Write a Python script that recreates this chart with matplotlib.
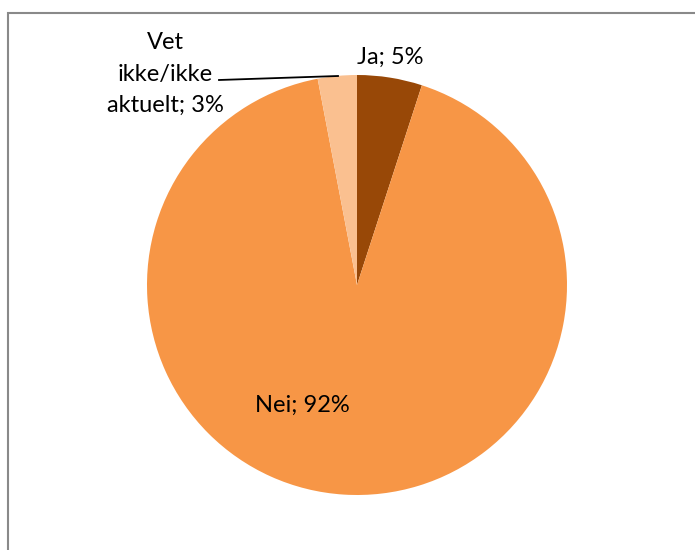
import matplotlib
matplotlib.use("Agg")
import matplotlib.pyplot as plt
from matplotlib.patches import Rectangle

# data
kategorier = ["Ja", "Nei", "Vet ikke/ikke aktuelt"]
andeler = [5, 92, 3]
farger = ["#984807", "#F79646", "#FAC090"]

plt.rcParams['font.family'] = ['Lato', 'DejaVu Sans']

fig = plt.figure(figsize=(6.95, 5.5), dpi=100)
ax = fig.add_axes([0, 0, 1, 1])

# ramme rundt diagrammet
ax.add_patch(Rectangle((8, -10), 720, 547, fill=False, edgecolor="#898989", linewidth=1.5))

ax.pie(andeler, colors=farger, startangle=90, counterclock=False,
       center=(357, 265), radius=210, frame=True)
ax.set_xlim(0, 695)
ax.set_ylim(0, 550)
ax.set_aspect("auto")
ax.axis("off")

fs = 17
ax.text(390, 493, f"{kategorier[0]}; {andeler[0]}%", ha="center", va="center", fontsize=fs)
ax.text(302, 145, f"{kategorier[1]}; {andeler[1]}%", ha="center", va="center", fontsize=fs)
ax.text(165, 476, f"Vet\nikke/ikke\naktuelt; {andeler[2]}%", ha="center", va="center",
        fontsize=fs, linespacing=1.6)
ax.plot([219, 338], [470, 474], color="black", linewidth=1.3)

fig.savefig("out.png", dpi=100)
